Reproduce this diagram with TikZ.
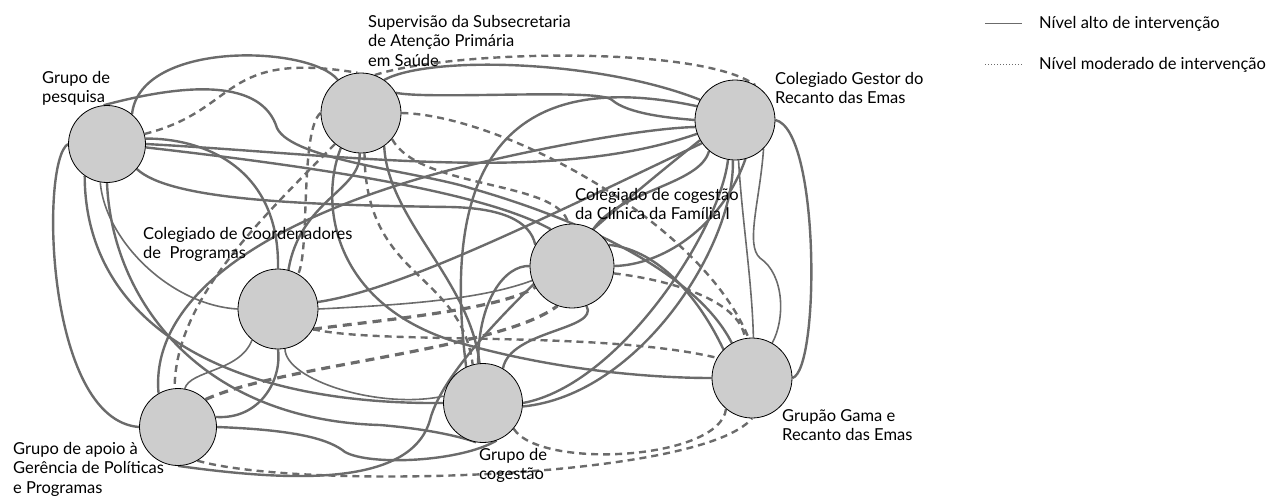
\documentclass[tikz,border=0pt]{standalone}
\usepackage{fontspec}
\setmainfont{Lato}
\usetikzlibrary{backgrounds}
\definecolor{edgegray}{HTML}{6B6B6B}
\definecolor{nodefill}{HTML}{CDCDCD}
\tikzset{
  actor/.style={circle, draw=black, line width=0.8pt, fill=nodefill, inner sep=0pt, minimum size=#1},
  lbl/.style={anchor=north west, inner sep=0pt, align=left, font=\fontsize{16.5}{19.5}\selectfont},
  hi/.style={draw=edgegray, line width=2.4pt},
  hithin/.style={draw=edgegray, line width=1.6pt},
  mod/.style={draw=edgegray, line width=2.4pt, dash pattern=on 7pt off 5pt},
  modthick/.style={draw=edgegray, line width=3.2pt, dash pattern=on 9pt off 6pt},
  legsolid/.style={draw=edgegray, line width=0.8pt},
  legdot/.style={draw=edgegray, line width=0.8pt, dash pattern=on 1pt off 2pt}
}
\begin{document}
\begin{tikzpicture}[x=1pt,y=-1pt]
\useasboundingbox (0,0) rectangle (1276,496);
% nodes
\node[actor=77pt] (GP) at (107,144) {};
\node[actor=80pt] (SUP) at (361,113) {};
\node[actor=80pt] (CG) at (735,120) {};
\node[actor=84pt] (CC) at (572,266) {};
\node[actor=80pt] (CO) at (278,309) {};
\node[actor=77pt] (GA) at (178,427) {};
\node[actor=79pt] (GC) at (483,403) {};
\node[actor=80pt] (GG) at (752,378) {};
% labels
\node[lbl] (lGP) at (42,71) {Grupo de\\pesquisa};
\node[lbl] (lSUP) at (368,15) {Supervisão da Subsecretaria\\de Atenção Primária\\em Saúde};
\node[lbl] (lCG) at (775,72) {Colegiado Gestor do\\Recanto das Emas};
\node[lbl] (lCC) at (575,188) {Colegiado de cogestão\\da Clínica da Família I};
\node[lbl] (lCO) at (143,227) {Colegiado de Coordenadores\\de~ Programas};
\node[lbl] (lGA) at (13,442) {Grupo de apoio à\\Gerência de Políticas\\e Programas};
\node[lbl] (lGC) at (479,448) {Grupo de\\cogestão};
\node[lbl] (lGG) at (782,409) {Grupão Gama e\\Recanto das Emas};
% legend
\coordinate (la1) at (985,23);
\coordinate (la2) at (1022,23);
\coordinate (lb1) at (985,64);
\coordinate (lb2) at (1022,64);
\draw[legsolid] (la1) -- (la2);
\draw[legdot] (lb1) -- (lb2);
\node[lbl] (lh) at (1039,16) {Nível alto de intervenção};
\node[lbl] (lm) at (1039,57) {Nível moderado de intervenção};
\begin{pgfonlayer}{background}
% ---- high level (solid)
\draw[hi] (GP.50) .. controls (140,40) and (310,45) .. (SUP.125);
\draw[hi] (GP.95) .. controls (190,82) and (262,80) .. (277,128) .. controls (292,160) and (420,172) .. (470,188) .. controls (600,225) and (700,280) .. (GG.120);
\draw[hi] (GP.0) .. controls (350,155) and (550,185) .. (CG.200);
\draw[hi] (GP.-5) .. controls (300,165) and (480,190) .. (CC.120);
\draw[hi] (GP.-40) .. controls (170,200) and (300,205) .. (450,207) .. controls (500,208) and (530,220) .. (CC.150);
\draw[hi] (GP.8) .. controls (200,138) and (280,165) .. (CO.90);
\draw[hithin] (GP.-100) .. controls (105,240) and (170,305) .. (CO.180);
\draw[hi] (GP.180) .. controls (40,160) and (45,420) .. (GA.180);
\draw[hi] (GP.-125) .. controls (85,320) and (220,405) .. (GC.180);
\draw[hi] (GP.-90) .. controls (112,300) and (200,420) .. (380,425) .. controls (440,430) and (470,440) .. (GC.-100);
\draw[hi] (SUP.55) .. controls (430,55) and (600,60) .. (CG.150);
\draw[hi] (SUP.30) .. controls (430,100) and (600,88) .. (612,100) .. controls (628,114) and (670,118) .. (CG.180);
\draw[hi] (SUP.-92) .. controls (362,190) and (300,200) .. (CO.75);
\draw[hi] (SUP.-55) .. controls (388,220) and (470,280) .. (GC.95);
\draw[hi] (SUP.-120) .. controls (320,200) and (330,300) .. (450,340) .. controls (550,370) and (650,378) .. (GG.180);
\draw[hi] (CG.0) .. controls (820,130) and (820,370) .. (GG.0);
\draw[hithin] (CG.-45) .. controls (760,200) and (745,245) .. (760,258) .. controls (785,275) and (785,320) .. (GG.60);
\draw[hithin] (CG.-85) .. controls (742,220) and (752,280) .. (GG.88);
\draw[hi] (CG.-130) .. controls (700,185) and (620,190) .. (CC.60);
\draw[hi] (CG.-100) .. controls (720,230) and (620,385) .. (GC.0);
\draw[hi] (CG.-93) .. controls (735,245) and (640,395) .. (GC.-5);
\draw[hi] (CG.-150) .. controls (650,180) and (450,340) .. (430,420) .. controls (410,490) and (280,480) .. (GA.-90);
\draw[hi] (GA.120) .. controls (150,300) and (260,220) .. (450,170) .. controls (550,145) and (650,128) .. (CG.190);
\draw[hithin] (GA.80) .. controls (190,370) and (240,372) .. (CO.-130);
\draw[hi] (GA.15) .. controls (260,420) and (282,380) .. (CO.-90);
\draw[hi] (GA.0) .. controls (300,430) and (330,440) .. (345,452) .. controls (370,466) and (460,462) .. (GC.-70);
\draw[hithin] (CO.0) .. controls (400,305) and (480,300) .. (CC.200);
\draw[hi] (CO.10) .. controls (400,290) and (540,220) .. (CG.215);
\draw[hithin] (CO.-80) .. controls (285,380) and (380,410) .. (GC.170);
\draw[hi] (GC.60) .. controls (510,330) and (600,330) .. (CC.-70);
\draw[hi] (GC.97) .. controls (478,300) and (505,265) .. (CC.180);
\draw[hi] (GC.115) .. controls (445,200) and (480,60) .. (CG.160);
\draw[hi] (CC.30) .. controls (660,250) and (700,300) .. (GG.135);
\draw[hi] (CC.0) .. controls (660,265) and (720,230) .. (CG.-75);
% ---- moderate level (dashed)
\draw[mod] (GP.15) .. controls (240,110) and (220,50) .. (SUP.95);
\draw[mod] (SUP.70) .. controls (450,50) and (700,45) .. (CG.60);
\draw[mod] (SUP.0) .. controls (500,115) and (700,220) .. (GG.95);
\draw[mod] (SUP.-40) .. controls (420,190) and (560,180) .. (CC.95);
\draw[mod] (SUP.180) .. controls (300,130) and (310,250) .. (CO.60);
\draw[mod] (SUP.-130) .. controls (260,220) and (175,300) .. (GA.95);
\draw[mod] (SUP.-85) .. controls (365,280) and (460,270) .. (GC.105);
\draw[mod] (GA.-60) .. controls (300,490) and (700,480) .. (GG.-90);
\draw[mod] (GC.-40) .. controls (540,470) and (720,460) .. (GG.-130);
\draw[modthick] (CO.-30) .. controls (380,320) and (500,310) .. (CC.-150);
\draw[mod] (CO.-30) .. controls (380,345) and (600,330) .. (GG.150);
\draw[modthick] (GA.45) .. controls (280,365) and (500,350) .. (CC.-110);
\draw[mod] (CC.-10) .. controls (670,280) and (740,300) .. (GG.100);
\end{pgfonlayer}
\end{tikzpicture}
\end{document}
